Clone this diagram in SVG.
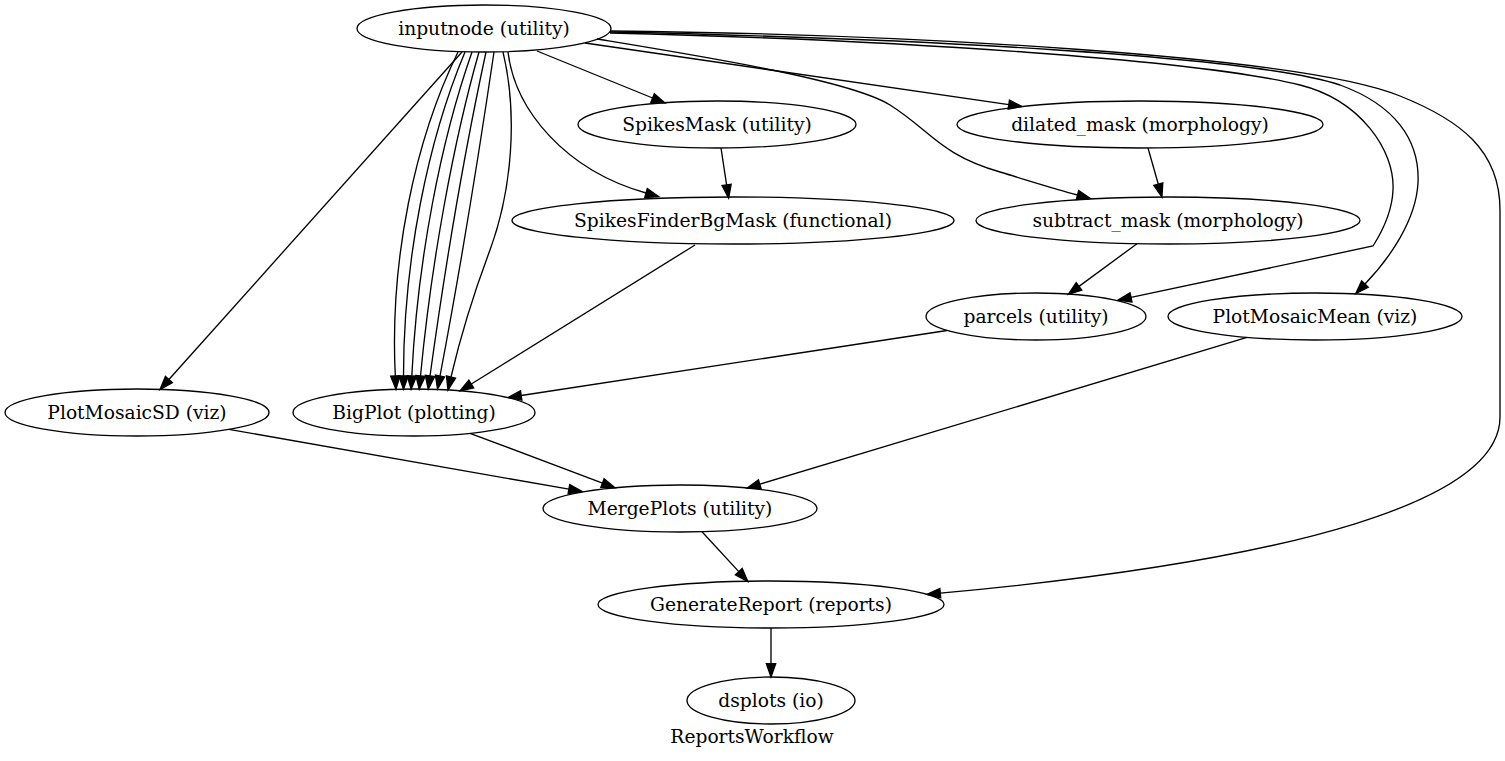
<svg xmlns="http://www.w3.org/2000/svg" width="1505" height="761" viewBox="0 0 1505 761">
<style>
.n ellipse{fill:none;stroke:#000;stroke-width:1.33}
text{font-family:"DejaVu Serif","Liberation Serif",serif;font-size:18.67px;fill:#000;text-anchor:middle}
.e path{fill:none;stroke:#000;stroke-width:1.33;marker-end:url(#ah)}
</style>
<defs>
<marker id="ah" markerUnits="userSpaceOnUse" markerWidth="16" markerHeight="12" refX="0" refY="4.67" orient="auto" overflow="visible">
<path d="M0,0 L13.33,4.67 L0,9.33 Z" fill="#000" stroke="#000" stroke-width="1.33"/>
</marker>
</defs>
<rect width="1505" height="761" fill="#fff"/>
<g id="connectors" class="e">
<path d="M537,51 L652.6,98"/>
<path d="M508,52 C515,110 565,170 646,193"/>
<path d="M585,43 L1008.8,104.6"/>
<path d="M597,39 C700,56 850,80 890,105 C930,130 940,155 1000,172 C1030,181 1055,189 1077.5,195"/>
<path d="M610,33 C900,40 1200,60 1300,85 C1360,100 1395,150 1393,190 C1392,215 1380,235 1373,246 L1131,297.4"/>
<path d="M610,32 C900,38 1250,55 1340,85 C1395,105 1420,140 1418,183 C1416,220 1390,258 1365,284"/>
<path d="M610,31 C900,34 1300,55 1400,96 C1460,120 1500,150 1500,210 L1500,417 C1500,500 1300,560 940.3,593.2"/>
<path d="M462,52 L168.9,379.5"/>
<path d="M458,52 C415,140 389.5,260 395.3,376"/>
<path d="M465,52 C428,140 403.5,260 403.5,376"/>
<path d="M472,52 C441,140 417.5,260 411.8,376"/>
<path d="M479,52 C454,140 431.5,260 420.5,376"/>
<path d="M486,52 C467,140 446,260 430,376"/>
<path d="M494,52 C481,140 462,260 440,376"/>
<path d="M503,52 C518,115 512,190 490,250 C478,282 462,330 451,377"/>
<path d="M721,148 L726.6,184.9"/>
<path d="M695,245 L471.3,384"/>
<path d="M1148,148 L1158.3,184.2"/>
<path d="M1137,243.7 L1079,286.4"/>
<path d="M947,330.5 L521.2,395.5"/>
<path d="M1247,337.3 L759.8,484.2"/>
<path d="M470,433.3 L602.5,483.1"/>
<path d="M229,429.4 L568.9,489.2"/>
<path d="M702,531.7 L738.8,571.6"/>
<path d="M771,628 L771,663.7"/>
</g>
<g id="inputnode" class="n"><ellipse cx="484" cy="28.5" rx="127" ry="23.5"/><text x="484" y="34.5">inputnode (utility)</text></g>
<g id="SpikesMask" class="n"><ellipse cx="717" cy="124.5" rx="139" ry="23.5"/><text x="717" y="130.5">SpikesMask (utility)</text></g>
<g id="dilated_mask" class="n"><ellipse cx="1140" cy="124.5" rx="183" ry="23.5"/><text x="1140" y="130.5">dilated_mask (morphology)</text></g>
<g id="SpikesFinderBgMask" class="n"><ellipse cx="733" cy="220.5" rx="221" ry="23.5"/><text x="733" y="226.5">SpikesFinderBgMask (functional)</text></g>
<g id="subtract_mask" class="n"><ellipse cx="1168" cy="220.5" rx="192" ry="23.5"/><text x="1168" y="226.5">subtract_mask (morphology)</text></g>
<g id="parcels" class="n"><ellipse cx="1036" cy="316.5" rx="110" ry="23.5"/><text x="1036" y="322.5">parcels (utility)</text></g>
<g id="PlotMosaicMean" class="n"><ellipse cx="1315" cy="316.5" rx="147" ry="23.5"/><text x="1315" y="322.5">PlotMosaicMean (viz)</text></g>
<g id="PlotMosaicSD" class="n"><ellipse cx="137" cy="412.5" rx="132" ry="23.5"/><text x="137" y="418.5">PlotMosaicSD (viz)</text></g>
<g id="BigPlot" class="n"><ellipse cx="414" cy="412.5" rx="121" ry="23.5"/><text x="414" y="418.5">BigPlot (plotting)</text></g>
<g id="MergePlots" class="n"><ellipse cx="680" cy="508.5" rx="137" ry="23.5"/><text x="680" y="514.5">MergePlots (utility)</text></g>
<g id="GenerateReport" class="n"><ellipse cx="771" cy="604.5" rx="173" ry="23.5"/><text x="771" y="610.5">GenerateReport (reports)</text></g>
<g id="dsplots" class="n"><ellipse cx="771" cy="700.5" rx="84" ry="23.5"/><text x="771" y="706.5">dsplots (io)</text></g>
<text id="graph-label" x="752" y="743">ReportsWorkflow</text>
</svg>
